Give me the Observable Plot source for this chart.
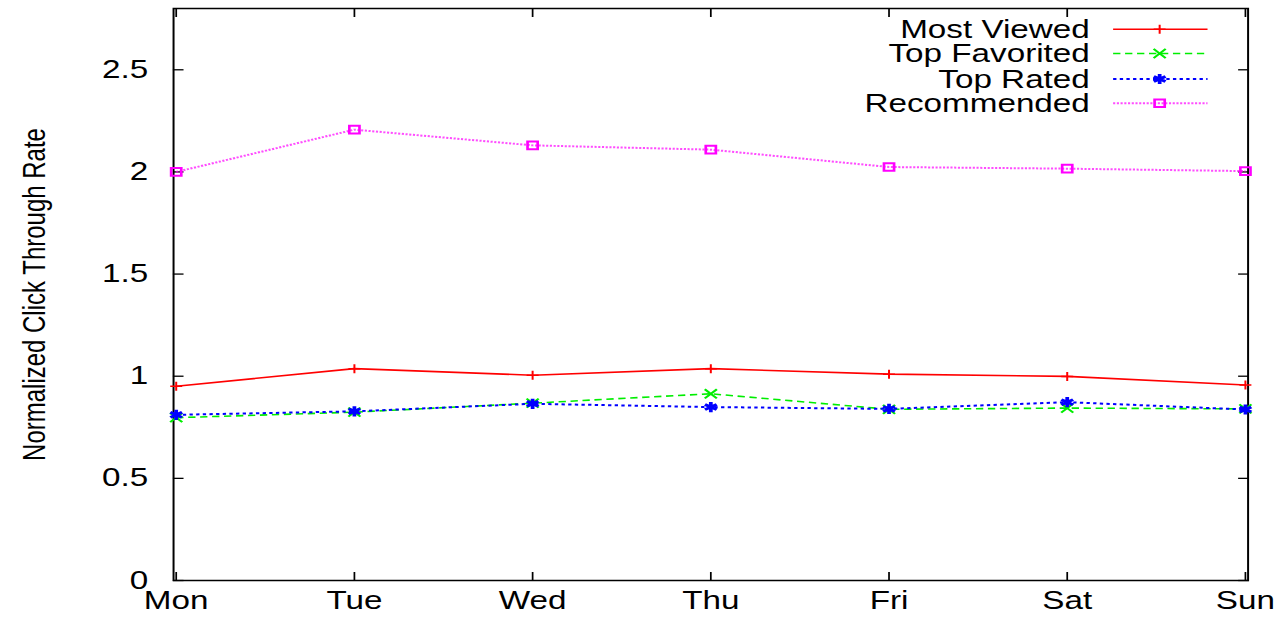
<!DOCTYPE html>
<html>
<head>
<meta charset="utf-8">
<script src="https://cdn.jsdelivr.net/npm/d3@7"></script>
<script src="https://cdn.jsdelivr.net/npm/@observablehq/plot@0.6"></script>
<style>
  html, body { margin: 0; padding: 0; background: white; }
  #chart { width: 1282px; height: 617px; overflow: hidden; }
</style>
</head>
<body>
<div id="chart"></div>
<script>
// ---- data ----
const days = ["Mon", "Tue", "Wed", "Thu", "Fri", "Sat", "Sun"];
const seriesNames = ["Most Viewed", "Top Favorited", "Top Rated", "Recommended"];
const mostViewed   = [0.951, 1.037, 1.005, 1.037, 1.010, 0.999, 0.957];
const topFavorited = [0.797, 0.824, 0.868, 0.914, 0.838, 0.844, 0.840];
const topRated     = [0.811, 0.828, 0.865, 0.849, 0.840, 0.873, 0.837];
const recommended  = [2.000, 2.207, 2.130, 2.109, 2.024, 2.016, 2.004];
const yTicks = [0, 0.5, 1, 1.5, 2, 2.5];
const yTickLabels = ["0", "0.5", "1", "1.5", "2", "2.5"];
const yLabel = "Normalized Click Through Rate";

const seriesValues = [mostViewed, topFavorited, topRated, recommended];
const styles = [
  {color: "#ff0000", dash: null,      width: 1.6, symbol: "plus",     r: 3,   sw: 1.5, op: 1},
  {color: "#00ee00", dash: "5.5,3.5", width: 1.6, symbol: "times",    r: 4.2, sw: 1.8, op: 1},
  {color: "#0000ff", dash: "2.5,2.5", width: 2.0, symbol: "asterisk", r: 4.8, sw: 2.8, op: 1},
  {color: "#ff00ff", dash: "1.6,1.2", width: 2.0, symbol: "square",   r: 4.3, sw: 2.0, op: 0.7}
];
const data = seriesNames.flatMap((s, i) => days.map((d, j) => ({series: s, day: d, value: seriesValues[i][j]})));

// logical width, stretched horizontally to 1282 px afterwards (like the reference)
const W = 964, H = 617;
const FONT = 25;

const marks = [
  Plot.frame({stroke: "black", strokeWidth: 1.5}),
  // tick labels
  Plot.axisY(yTicks, {anchor: "left", tickSize: 0, tickPadding: 19, fontSize: FONT, label: null,
    tickFormat: d => yTickLabels[yTicks.indexOf(d)]}),
  Plot.axisX(days, {anchor: "bottom", tickSize: 0, tickPadding: 11, fontSize: FONT, label: null}),
  // inward mirrored ticks
  Plot.axisY(yTicks, {anchor: "left", tickSize: 8, dx: 8, tickFormat: () => "", label: null, strokeWidth: 1.3}),
  Plot.axisY(yTicks, {anchor: "right", tickSize: 8, dx: -8, tickFormat: () => "", label: null, strokeWidth: 1.3}),
  Plot.axisX(days, {anchor: "bottom", tickSize: 8, dy: -8, tickFormat: () => "", label: null, strokeWidth: 1.3}),
  Plot.axisX(days, {anchor: "top", tickSize: 8, dy: 8, tickFormat: () => "", label: null, strokeWidth: 1.3}),
  Plot.text([yLabel], {frameAnchor: "left", textAnchor: "middle", lineAnchor: "middle", rotate: -90, dx: -104, fontSize: 24, fill: "black"})
];
seriesNames.forEach((s, i) => {
  const st = styles[i];
  const d = data.filter(e => e.series === s);
  marks.push(Plot.line(d, {x: "day", y: "value", stroke: st.color, strokeWidth: st.width,
    strokeDasharray: st.dash, strokeLinecap: "butt", strokeOpacity: st.op}));
});
seriesNames.forEach((s, i) => {
  const st = styles[i];
  const d = data.filter(e => e.series === s);
  marks.push(Plot.dot(d, {x: "day", y: "value", symbol: () => st.symbol, stroke: st.color, fill: "none",
    r: st.r, strokeWidth: st.sw}));
});

const plot = Plot.plot({
  width: W, height: H,
  marginLeft: 130, marginRight: 26, marginTop: 8, marginBottom: 37,
  style: {fontFamily: "'Liberation Sans', Arial, sans-serif", fontSize: FONT + "px", color: "black", background: "white", overflow: "visible"},
  x: {type: "point", domain: days, padding: 0},
  y: {domain: [0, 2.8]},
  marks
});

// legend (inside the frame, top right)
const svg = d3.select(plot);
const xr = plot.scale("x").range;
const frameRight = Math.max(...xr);
const g = svg.append("g").attr("font-family", "'Liberation Sans', Arial, sans-serif").attr("font-size", FONT);
const rowY = [29.3, 53.5, 79, 103.3];
seriesNames.forEach((s, i) => {
  const st = styles[i];
  const y = rowY[i];
  g.append("text").attr("x", frameRight - 118.5).attr("y", y).attr("dy", "0.35em")
    .attr("text-anchor", "end").attr("fill", "black").text(s);
  g.append("line").attr("x1", frameRight - 101).attr("x2", frameRight - 30).attr("y1", y).attr("y2", y)
    .attr("stroke", st.color).attr("stroke-width", st.width).attr("stroke-opacity", st.op)
    .attr("stroke-dasharray", st.dash);
  const sym = {plus: d3.symbolPlus, times: d3.symbolTimes, asterisk: d3.symbolAsterisk, square: d3.symbolSquare}[st.symbol];
  g.append("path").attr("transform", `translate(${frameRight - 66},${y})`)
    .attr("d", d3.symbol(sym, Math.PI * st.r * st.r)())
    .attr("fill", "none").attr("stroke", st.color).attr("stroke-width", st.sw);
});

plot.setAttribute("width", 1282);
plot.setAttribute("height", 617);
plot.setAttribute("preserveAspectRatio", "none");
plot.style.width = "1282px";
plot.style.height = "617px";
plot.style.maxWidth = "none";
document.getElementById("chart").appendChild(plot);
</script>
</body>
</html>
